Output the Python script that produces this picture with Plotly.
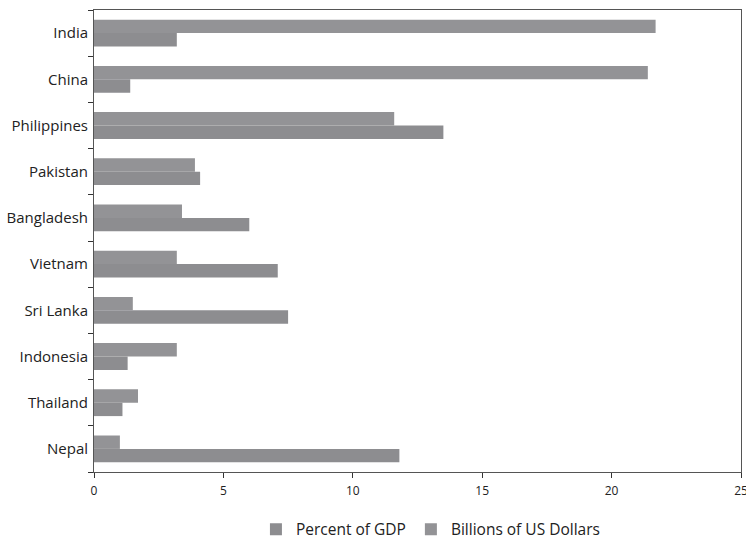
import plotly.graph_objects as go

countries = ["India", "China", "Philippines", "Pakistan", "Bangladesh",
             "Vietnam", "Sri Lanka", "Indonesia", "Thailand", "Nepal"]
pct_gdp = [3.2, 1.4, 13.5, 4.1, 6.0, 7.1, 7.5, 1.3, 1.1, 11.8]
billions_usd = [21.7, 21.4, 11.6, 3.9, 3.4, 3.2, 1.5, 3.2, 1.7, 1.0]

fig = go.Figure()
fig.add_trace(go.Bar(y=countries, x=pct_gdp, orientation="h",
                     name="Percent of GDP", marker=dict(color="#8d8d90", line_width=0)))
fig.add_trace(go.Bar(y=countries, x=billions_usd, orientation="h",
                     name="Billions of US Dollars", marker=dict(color="#939396", line_width=0)))

fig.update_layout(
    width=746, height=541,
    barmode="group", bargap=0.42, bargroupgap=0,
    plot_bgcolor="white", paper_bgcolor="white",
    font=dict(family="Open Sans", color="#222", size=13),
    margin=dict(l=94, r=5, t=10, b=69, autoexpand=False),
    legend=dict(orientation="h", x=0.52, xanchor="center", y=-0.125, yanchor="middle",
                font=dict(size=15.5), traceorder="normal", itemwidth=30),
    xaxis=dict(range=[0, 25], tickvals=[0, 5, 10, 15, 20, 25], showgrid=False, zeroline=False,
               ticks="outside", ticklen=5, tickcolor="#333", ticklabeloverflow="allow",
               showline=True, linecolor="#555", mirror=True, automargin=False,
               ticklabelstandoff=3, tickfont=dict(size=12)),
    yaxis=dict(categoryorder="array", categoryarray=countries[::-1],
               showgrid=False, ticks="outside", tickson="boundaries", ticklen=5,
               tickcolor="#333", showline=True, linecolor="#555", mirror=True,
               automargin=False, ticklabelstandoff=2, tickfont=dict(size=15)),
)

# the page's default body margin would shift the fixed-size figure
fig.write_html("out.html", config={"displayModeBar": False},
               post_script="document.body.style.margin='0';document.body.style.overflow='hidden';")
